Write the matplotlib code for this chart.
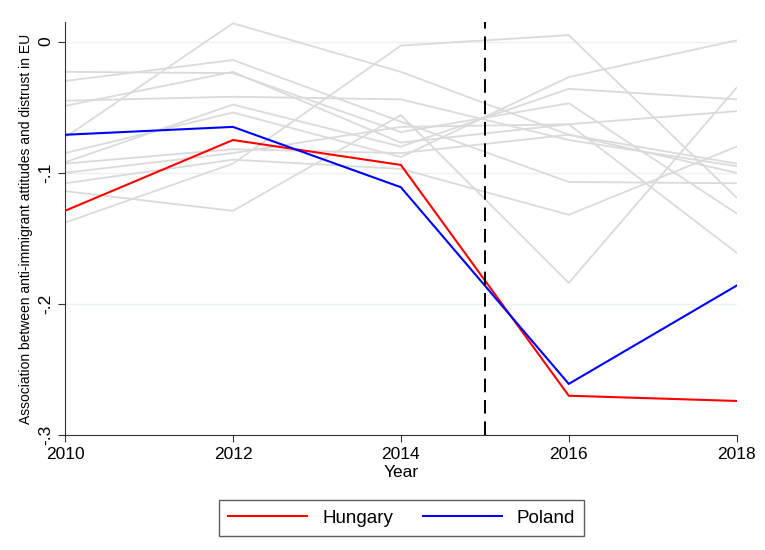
import matplotlib
matplotlib.use('Agg')
import matplotlib.pyplot as plt

plt.rcParams['font.family'] = ['Liberation Sans', 'DejaVu Sans']

years = [2010, 2012, 2014, 2016, 2018]

# other countries (grey background lines)
others = [
    [-0.073, 0.014, -0.023, -0.071, -0.100],
    [-0.138, -0.093, -0.003, 0.005, -0.119],
    [-0.114, -0.129, -0.056, -0.184, -0.035],
    [-0.023, -0.024, -0.069, -0.047, -0.131],
    [-0.030, -0.014, -0.061, -0.107, -0.108],
    [-0.045, -0.042, -0.044, -0.075, -0.095],
    [-0.049, -0.023, -0.077, -0.063, -0.053],
    [-0.085, -0.054, -0.088, -0.027, 0.001],
    [-0.092, -0.048, -0.080, -0.036, -0.044],
    [-0.093, -0.082, -0.085, -0.071, -0.093],
    [-0.108, -0.090, -0.097, -0.132, -0.080],
    [-0.100, -0.085, -0.065, -0.063, -0.161],
]

hungary = [-0.129, -0.075, -0.094, -0.270, -0.274]
poland = [-0.071, -0.065, -0.111, -0.261, -0.186]

yticks = [0, -0.1, -0.2, -0.3]
ytick_labels = ['0', '-.1', '-.2', '-.3']

fig = plt.figure(figsize=(7.65, 5.5), dpi=100)
ax = fig.add_axes([0.085, 0.209, 0.878, 0.751])

for row in others:
    ax.plot(years, row, color='#dadada', lw=1.3, zorder=1)

l1, = ax.plot(years, hungary, color='#ff0000', lw=1.5, zorder=3, label='Hungary')
l2, = ax.plot(years, poland, color='#0000ff', lw=1.5, zorder=3, label='Poland')

ax.axvline(2015, color='black', ls=(0, (7, 4)), lw=1.4, zorder=4)

ax.set_xlim(2010, 2018)
ax.set_ylim(-0.3, 0.015)
ax.set_xticks(years)
ax.set_yticks(yticks)
ax.set_yticklabels(ytick_labels, rotation=90, va='center')
for y in yticks[:-1]:
    ax.axhline(y, color='#eaf2f3', lw=1, zorder=0)

ax.tick_params(labelsize=12.5, color='#333333', length=5)
ax.spines['top'].set_visible(False)
ax.spines['right'].set_visible(False)
ax.spines['left'].set_color('#333333')
ax.spines['bottom'].set_color('#333333')
ax.set_xlabel('Year', fontsize=12.5, labelpad=2)
ax.set_ylabel('Association between anti-immigrant attitudes and distrust in EU', fontsize=10, labelpad=4)

fig.legend(handles=[l1, l2], loc='center', bbox_to_anchor=(0.525, 0.058), ncol=2,
           fontsize=13.5, frameon=True, fancybox=False, edgecolor='#333333',
           handlelength=4.2, columnspacing=1.6, borderpad=0.5)

fig.savefig('out.png', dpi=100)
